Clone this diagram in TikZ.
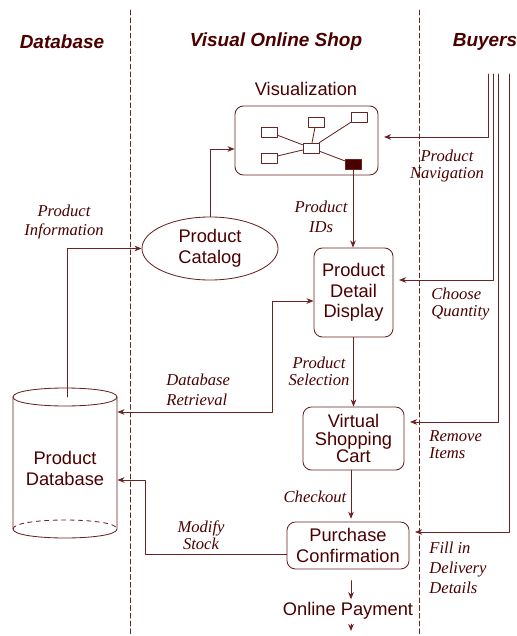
\documentclass[tikz,border=0pt]{standalone}
\usepackage{fontspec}
\setmainfont{Liberation Serif}
\setsansfont{Liberation Sans}
\usetikzlibrary{shapes.geometric,positioning,arrows.meta}
\definecolor{ink}{RGB}{75,0,0}
\definecolor{wire}{RGB}{105,35,35}
\tikzset{
  box/.style={draw=wire, rounded corners=6pt, align=center, inner sep=0pt},
  mini/.style={draw=wire, minimum width=0.4cm, minimum height=0.25cm, inner sep=0pt},
  lbl/.style={font=\rmfamily\itshape\fontsize{11.8}{14.2}\selectfont, align=center, inner sep=0pt},
  head/.style={font=\sffamily\bfseries\itshape\fontsize{13.5}{16}\selectfont},
  lane/.style={dash pattern=on 3.5pt off 2pt, line width=0.5pt}
}
\begin{document}
\begin{tikzpicture}[x=0.025cm, y=-0.025cm, >={Stealth[length=5pt,width=4pt,inset=1.5pt]},
    line join=round, line cap=round, color=wire, line width=0.6pt,
    every node/.style={text=ink}, font=\sffamily\fontsize{13}{14.6}\selectfont]
    \useasboundingbox (0,0) rectangle (516,636);
    % lanes
    \foreach \x in {130,419}
    \draw[lane] (\x,10)--(\x,636);
    \node[head] (hDb) at (62,42) {Database};
    \node[head] (hShop) at (276,42) {Visual Online Shop};
    \node[head] (hBuy) at (485,42) {Buyers};
    % boxes
    \node[box, minimum width=3.575cm, minimum height=1.725cm] (vis) at (306.5,140.5) {};
    \node at (306,89) {Visualization};
    \foreach \n/\x/\y in {a/269/132, b/316/122, c/359/117, d/269/158}
    \node[mini] (\n) at (\x,\y) {};
    \node[mini] (hub) at (311,148) {};
    \node[mini, fill=ink] (sel) at (353,164) {};
    \foreach \n in {a,b,c,d,sel}
    \draw (hub)--(\n);
    \node[draw=wire, ellipse, minimum width=3.4cm, minimum height=1.575cm, inner sep=0pt, align=center] (cat) at (210,248.5) {Product\\Catalog};
    \node[box, minimum width=1.975cm, minimum height=2.225cm] (pdd) at (353.5,292.5) {Product\\Detail\\Display};
    \node[box, minimum width=2.525cm, minimum height=1.575cm] (cart) at (353.5,438.5) {Virtual\\[-2pt]Shopping\\[-2pt]Cart};
    \node[box, minimum width=3.05cm, minimum height=1.175cm] (pc) at (348,545.5) {Purchase\\Confirmation};
    \node[inner sep=0pt] (pay) at (348,611) {Online Payment};
    % cylinder
    \draw (13,397)--(13,529) .. controls (13,541) and (117,541) .. (117,529)--(117,397);
    \draw (13,397) .. controls (13,385) and (117,385) .. (117,397) .. controls (117,409) and (13,409) .. (13,397);
    \draw[dashed] (13,529) .. controls (13,517) and (117,517) .. (117,529);
    \node[minimum width=2.6cm, inner sep=0pt, align=center] (db) at (65,468.5) {Product\\Database};
    \coordinate (dbtop) at (67,397);
    \coordinate (px) at (351,0);
    \coordinate (out) at (351,631);
    % connectors
    \draw[->] (cat.north) |- (vis.west |- 0,149);
    \draw[->] (dbtop) |- (cat.west);
    \draw[->] (sel.south)--(sel.south |- pdd.north);
    \draw[<->] (db.east |- 0,412) -| (272,301)--(pdd.west |- 0,301);
    \draw[->] (pdd)--(cart);
    \draw[->, shorten >=2pt] (cart.south -| px)--(pc.north -| px);
    \draw[->] (pc.west |- 0,554) -| (145,480)--(db.east |- 0,480);
    \draw[->, shorten <=8pt, shorten >=2pt] (pc.south -| px)--(pay.north -| px);
    \draw[->, shorten <=3pt] (pay.south -| px)--(out);
    \foreach \i/\x/\y/\t in {1/488/137/vis, 2/493/280/pdd, 3/498/422/cart, 4/509/532/pc}{
      \coordinate (b\i) at (\x,74);
      \draw[->, shorten >=4pt] (b\i) |- (\t.east |- 0,\y);
    }
    % labels
    \node[lbl] (lInfo) at (64,222) {Product\\Information};
    \node[lbl] (lIDs) at (321,217) {Product\\IDs};
    \node[lbl] (lNav) at (447,166) {Product\\[-1.5pt]Navigation};
    \node[lbl, align=left, anchor=west] (lQty) at (431,304) {Choose\\[-2pt]Quantity};
    \node[lbl, align=left, anchor=west] (lRet) at (166,390) {Database\\Retrieval};
    \node[lbl] (lSel) at (319,371) {Product\\[-2pt]Selection};
    \node[lbl, align=left, anchor=west] (lRem) at (429,445) {Remove\\[-2pt]Items};
    \node[lbl] (lChk) at (315,497) {Checkout};
    \node[lbl] (lMod) at (201,535) {Modify\\[-2pt]Stock};
    \node[lbl, align=left, anchor=west] (lFill) at (429,568) {Fill in\\Delivery\\Details};
\end{tikzpicture}
\end{document}
